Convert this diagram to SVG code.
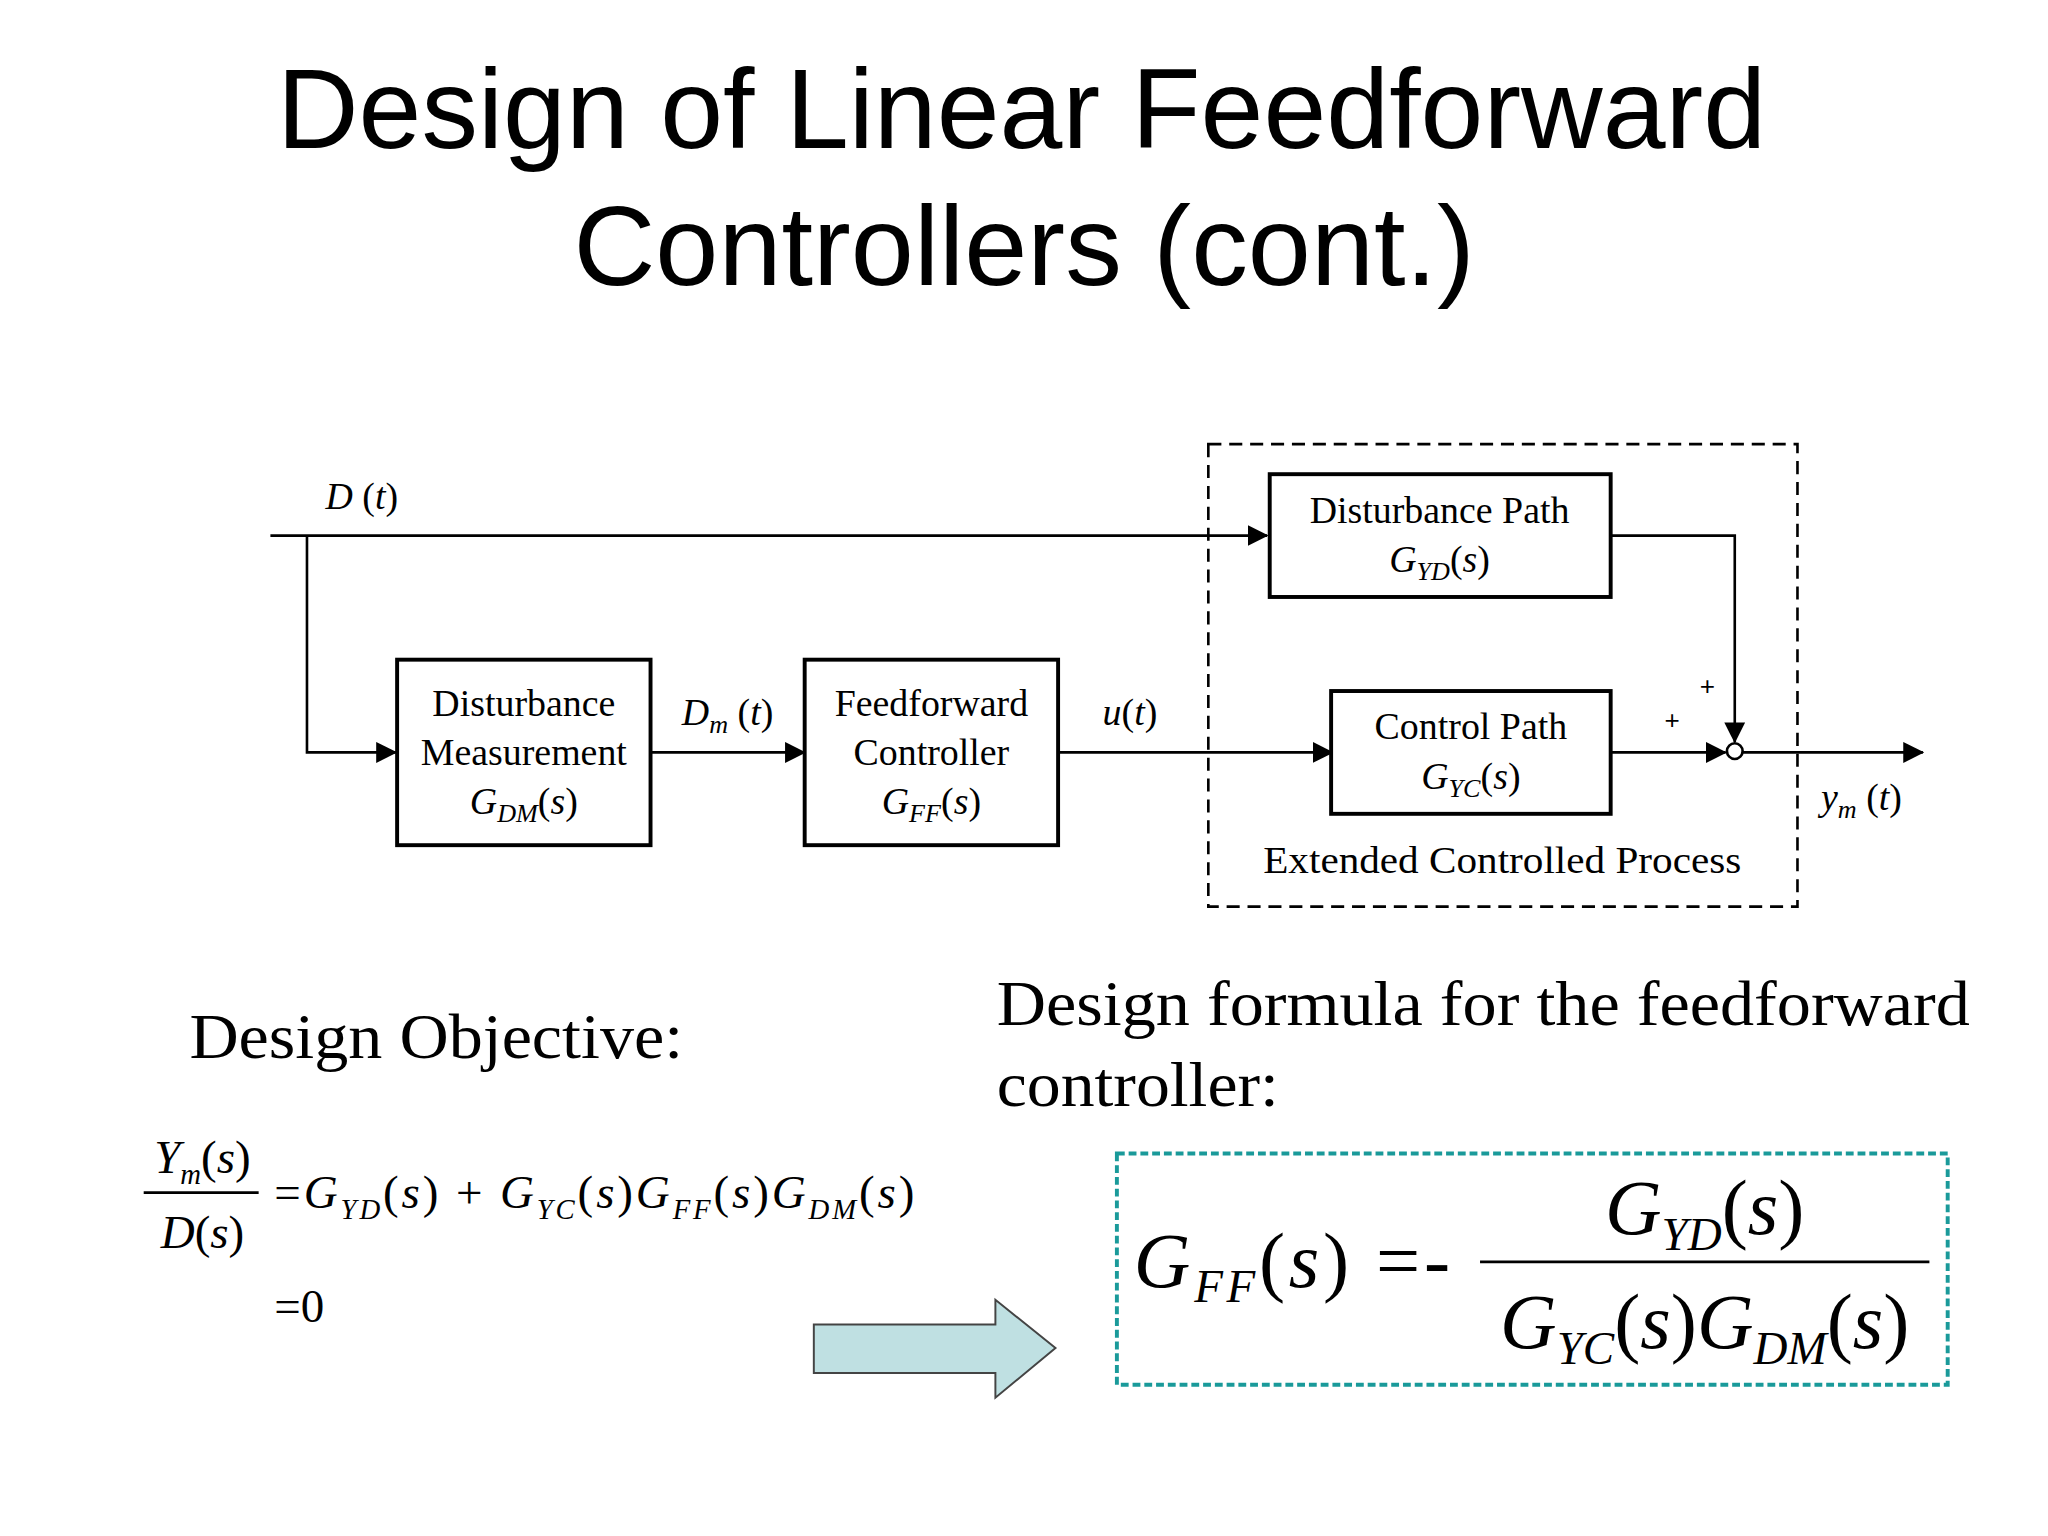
<svg xmlns="http://www.w3.org/2000/svg" width="2048" height="1536" viewBox="0 0 2048 1536">
<style>
.t{font-family:"Liberation Serif",serif;fill:#000}
.i{font-style:italic}
.box{fill:#fff;stroke:#000;stroke-width:3}
.ln{fill:none;stroke:#000;stroke-width:2}
</style>
<defs><marker id="b" markerWidth="16" markerHeight="16" refX="15" refY="8" orient="auto" markerUnits="userSpaceOnUse" viewBox="0 0 16 16"><path d="M0,0L16,8L0,16z" fill="#000"/></marker></defs>
<rect width="2048" height="1536" fill="#fff"/>
<g transform="scale(1.3063)">
<g id="title" font-family="Liberation Sans,Arial,sans-serif" font-size="86" text-anchor="middle">
<text x="782" y="113" textLength="1140" lengthAdjust="spacingAndGlyphs">Design of Linear Feedforward</text>
<text x="784" y="218" textLength="690" lengthAdjust="spacingAndGlyphs">Controllers (cont.)</text>
</g>
<rect id="ecp" x="925" y="340" width="451" height="354" fill="none" stroke="#000" stroke-width="2" stroke-dasharray="10,6"/>
<g id="connectors">
<path class="ln" d="M207,410H970" marker-end="url(#b)"/>
<path class="ln" d="M235,410V576H303" marker-end="url(#b)"/>
<path class="ln" d="M498,576H616" marker-end="url(#b)"/>
<path class="ln" d="M810,576H1020" marker-end="url(#b)"/>
<path class="ln" d="M1233,410H1328V568" marker-end="url(#b)"/>
<path class="ln" d="M1233,576H1321" marker-end="url(#b)"/>
<path class="ln" d="M1334,576H1472" marker-end="url(#b)"/>
<circle cx="1328" cy="575" r="6" fill="#fff" stroke="#000" stroke-width="2"/>
</g>
<g class="t" font-size="29" text-anchor="middle">
<text x="277" y="390" class="i">D <tspan font-style="normal">(</tspan>t<tspan font-style="normal">)</tspan></text>
<text x="557" y="555"><tspan class="i">D</tspan><tspan class="i" font-size="20" dy="6">m</tspan><tspan dy="-6"> (</tspan><tspan class="i">t</tspan>)</text>
<text x="865" y="555"><tspan class="i">u</tspan>(<tspan class="i">t</tspan>)</text>
<text x="1425" y="620"><tspan class="i">y</tspan><tspan class="i" font-size="20" dy="6">m</tspan><tspan dy="-6"> (</tspan><tspan class="i">t</tspan>)</text>
<text x="1307" y="532" font-family="Liberation Sans,sans-serif" font-size="20">+</text>
<text x="1280" y="558" font-family="Liberation Sans,sans-serif" font-size="20">+</text>
<text x="1150" y="668" textLength="366" lengthAdjust="spacingAndGlyphs">Extended Controlled Process</text>
</g>
<g id="dm" class="t" font-size="29" text-anchor="middle">
<rect class="box" x="304" y="505" width="194" height="142"/>
<text x="401" y="548">Disturbance</text><text x="401" y="586">Measurement</text>
<text x="401" y="623"><tspan class="i">G</tspan><tspan class="i" font-size="20" dy="6">DM</tspan><tspan dy="-6">(</tspan><tspan class="i">s</tspan>)</text>
</g>
<g id="ff" class="t" font-size="29" text-anchor="middle">
<rect class="box" x="616" y="505" width="194" height="142"/>
<text x="713" y="548">Feedforward</text><text x="713" y="586">Controller</text>
<text x="713" y="623"><tspan class="i">G</tspan><tspan class="i" font-size="20" dy="6">FF</tspan><tspan dy="-6">(</tspan><tspan class="i">s</tspan>)</text>
</g>
<g id="dp" class="t" font-size="29" text-anchor="middle">
<rect class="box" x="972" y="363" width="261" height="94"/>
<text x="1102" y="400">Disturbance Path</text>
<text x="1102" y="438"><tspan class="i">G</tspan><tspan class="i" font-size="20" dy="6">YD</tspan><tspan dy="-6">(</tspan><tspan class="i">s</tspan>)</text>
</g>
<g id="cp" class="t" font-size="29" text-anchor="middle">
<rect class="box" x="1019" y="529" width="214" height="94"/>
<text x="1126" y="566">Control Path</text>
<text x="1126" y="604"><tspan class="i">G</tspan><tspan class="i" font-size="20" dy="6">YC</tspan><tspan dy="-6">(</tspan><tspan class="i">s</tspan>)</text>
</g>
<g class="t" font-size="49">
<text x="145" y="810" textLength="378" lengthAdjust="spacingAndGlyphs">Design Objective:</text>
<text x="763" y="785" textLength="745" lengthAdjust="spacingAndGlyphs">Design formula for the feedforward</text>
<text x="763" y="847" textLength="216" lengthAdjust="spacingAndGlyphs">controller:</text>
</g>
<g id="eq1" class="t" font-size="36">
<text x="155" y="898" text-anchor="middle"><tspan class="i">Y</tspan><tspan class="i" font-size="22" dy="8">m</tspan><tspan dy="-8">(</tspan><tspan class="i">s</tspan>)</text>
<line x1="110" y1="913" x2="198" y2="913" stroke="#000" stroke-width="2"/>
<text x="155" y="955" text-anchor="middle"><tspan class="i">D</tspan>(<tspan class="i">s</tspan>)</text>
<text x="210" y="925" textLength="490" lengthAdjust="spacing">=<tspan class="i">G</tspan><tspan class="i" font-size="22" dy="8">YD</tspan><tspan dy="-8">(</tspan><tspan class="i">s</tspan>) + <tspan class="i">G</tspan><tspan class="i" font-size="22" dy="8">YC</tspan><tspan dy="-8">(</tspan><tspan class="i">s</tspan>)<tspan class="i">G</tspan><tspan class="i" font-size="22" dy="8">FF</tspan><tspan dy="-8">(</tspan><tspan class="i">s</tspan>)<tspan class="i">G</tspan><tspan class="i" font-size="22" dy="8">DM</tspan><tspan dy="-8">(</tspan><tspan class="i">s</tspan>)</text>
<text x="210" y="1012">=0</text>
</g>
<polygon id="bigarrow" points="623,1014 762,1014 762,995 808,1032 762,1070 762,1051 623,1051" fill="#bfe0e2" stroke="#444" stroke-width="1.5"/>
<g id="formula" class="t">
<rect x="855" y="883" width="636" height="177" fill="none" stroke="#1a9a9a" stroke-width="3" stroke-dasharray="6,3"/>
<text x="868" y="985" font-size="60" textLength="242" lengthAdjust="spacing"><tspan class="i">G</tspan><tspan class="i" font-size="36" dy="12">FF</tspan><tspan dy="-12">(</tspan><tspan class="i">s</tspan>) =-</text>
<line x1="1133" y1="966" x2="1477" y2="966" stroke="#000" stroke-width="2"/>
<text x="1305" y="945" font-size="60" text-anchor="middle"><tspan class="i">G</tspan><tspan class="i" font-size="36" dy="12">YD</tspan><tspan dy="-12">(</tspan><tspan class="i">s</tspan>)</text>
<text x="1305" y="1032" font-size="60" text-anchor="middle"><tspan class="i">G</tspan><tspan class="i" font-size="36" dy="12">YC</tspan><tspan dy="-12">(</tspan><tspan class="i">s</tspan>)<tspan class="i">G</tspan><tspan class="i" font-size="36" dy="12">DM</tspan><tspan dy="-12">(</tspan><tspan class="i">s</tspan>)</text>
</g>
</g>
</svg>
